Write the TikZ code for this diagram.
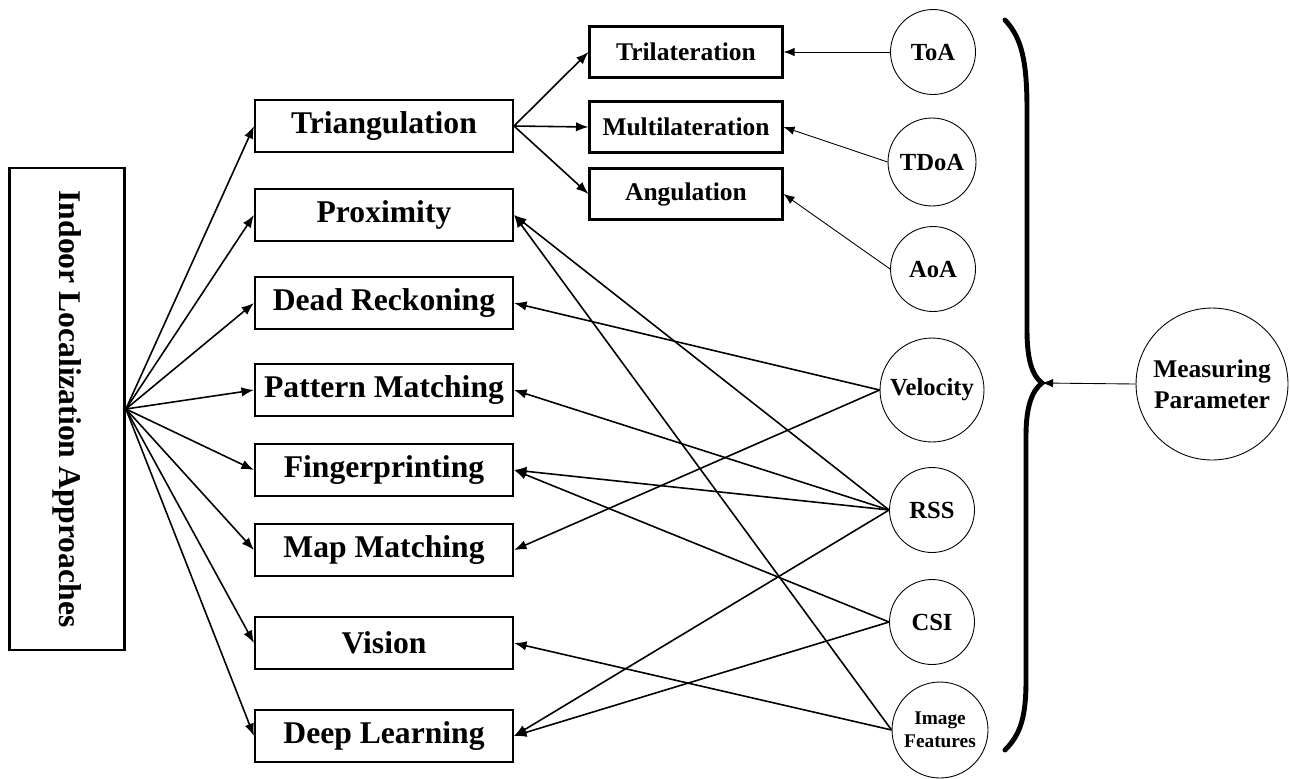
\documentclass[tikz,border=0pt]{standalone}
\usepackage{fontspec}
\setmainfont{Liberation Serif}
\usepackage{graphicx}
\usetikzlibrary{arrows.meta,positioning}

\begin{document}
\begin{tikzpicture}[x=0.02cm,y=-0.02cm,
mainbox/.style={draw,line width=1.6pt,minimum width=2.3cm,minimum height=9.64cm,inner sep=0pt,font=\fontsize{18}{21}\selectfont\bfseries},
approach/.style={draw,line width=1.2pt,minimum width=5.16cm,minimum height=1.04cm,inner sep=0pt,font=\fontsize{18}{21}\selectfont\bfseries},
method/.style={draw,line width=1.2pt,minimum width=3.86cm,minimum height=1.02cm,inner sep=0pt,font=\fontsize{14.5}{17}\selectfont\bfseries},
param/.style={draw,circle,line width=.5pt,minimum size=#1,inner sep=0pt,align=center,font=\fontsize{14}{16}\selectfont\bfseries},
param/.default=1.7cm,
arrow/.style={-{Latex[length=2.5mm,width=1.9mm]},line width=.9pt},
thinarrow/.style={-{Latex[length=2.2mm,width=1.7mm]},line width=.5pt}]
\useasboundingbox (0,0) rectangle (1290,778);
\node[mainbox] (main) at (67,409) {\rotatebox{-90}{Indoor Localization Approaches}};
\node[approach] (triang) at (384,126) {Triangulation};
\node[approach] (proximity) at (384,215) {Proximity};
\node[approach] (deadreck) at (384,303) {Dead Reckoning};
\node[approach] (pattern) at (384,390) {Pattern Matching};
\node[approach] (finger) at (384,470) {Fingerprinting};
\node[approach] (mapmatch) at (384,550) {Map Matching};
\node[approach] (vision) at (384,643) {Vision};
\node[approach] (deeplearn) at (384,736) {Deep Learning};
\draw[arrow] (main.east)--(triang.west);
\draw[arrow] (main.east)--(proximity.west);
\draw[arrow] (main.east)--(deadreck.west);
\draw[arrow] (main.east)--(pattern.west);
\draw[arrow] (main.east)--(finger.west);
\draw[arrow] (main.east)--(mapmatch.west);
\draw[arrow] (main.east)--(vision.west);
\draw[arrow] (main.east)--(deeplearn.west);
\node[method] (trilat) at (686,52) {Trilateration};
\node[method] (multilat) at (686,127) {Multilateration};
\node[method] (angul) at (686,194) {Angulation};
\draw[arrow] (triang.east)--(trilat.west);
\draw[arrow] (triang.east)--(multilat.west);
\draw[arrow] (triang.east)--(angul.west);
\node[param] (toa) at (933,52) {ToA};
\node[param=1.76cm] (tdoa) at (932,162) {TDoA};
\node[param] (aoa) at (933,269) {AoA};
\draw[thinarrow] (toa.west)--(trilat.east);
\draw[thinarrow] (tdoa.west)--(multilat.east);
\draw[thinarrow] (aoa.west)--(angul.east);
\node[param=2.08cm] (velocity) at (932,390) {Velocity};
\node[param] (rss) at (932,510) {RSS};
\node[param] (csi) at (932,622) {CSI};
\node[param=1.92cm,font=\fontsize{11}{13}\selectfont\bfseries] (imgfeat) at (940,730) {Image\\Features};
\draw[arrow] (velocity.west)--(deadreck.east);
\draw[arrow] (velocity.west)--(mapmatch.east);
\draw[arrow] (rss.west)--(proximity.east);
\draw[arrow] (rss.west)--(pattern.east);
\draw[arrow] (rss.west)--(finger.east);
\draw[arrow] (rss.west)--(deeplearn.east);
\draw[arrow] (csi.west)--(finger.east);
\draw[arrow] (csi.west)--(deeplearn.east);
\draw[arrow] (imgfeat.west)--(proximity.east);
\draw[arrow] (imgfeat.west)--(vision.east);
\coordinate (bracetip) at (1042,383);
\draw[line width=2.8pt,line cap=round] (1005,20) .. controls (1022,38) and (1027,62) .. (1027,110) -- (1027,330) .. controls (1027,362) and (1033,376) .. (bracetip) .. controls (1033,390) and (1026,404) .. (1026,436) -- (1026,680) .. controls (1026,716) and (1021,734) .. (1005,750);
\node[param=3.04cm,font=\fontsize{14.5}{17.5}\selectfont\bfseries] (measure) at (1212,384) {Measuring\\Parameter};
\draw[thinarrow] (measure.west)--(bracetip);
\end{tikzpicture}
\end{document}
